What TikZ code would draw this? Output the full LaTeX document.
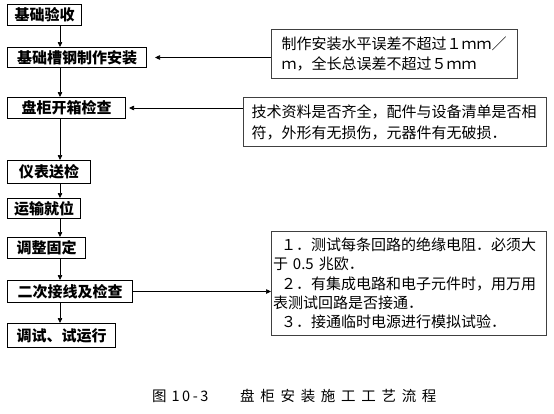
\documentclass[tikz,border=0pt]{standalone}
\usepackage{fontspec}
\setmainfont{Noto Sans CJK SC}
\usetikzlibrary{arrows.meta}
\newcommand\capgap{\hspace{5.7pt}}

\begin{document}
\begin{tikzpicture}[x=1pt,y=-1pt,
  font=\fontsize{15}{20}\selectfont,
  stepbox/.style={rectangle,draw,line width=1pt,anchor=north west,inner sep=0pt,align=center,font=\fontsize{15}{20}\selectfont\bfseries},
  notebox/.style={rectangle,draw=black!75,line width=1pt,anchor=north west,inner ysep=0pt,align=left},
  arr/.style={-{Triangle[length=5pt,width=4.5pt]},line width=0.7pt},
  caplbl/.style={font=\fontsize{14.5}{16}\selectfont,anchor=west,inner sep=0pt},
]
\useasboundingbox (0,0) rectangle (554,413);
% Left column: process steps
\node[stepbox,minimum width=74pt,minimum height=21pt]  (ys) at (7,4)   {基础验收};
\node[stepbox,minimum width=139pt,minimum height=20pt] (cg) at (7,47)  {基础槽钢制作安装};
\node[stepbox,minimum width=118pt,minimum height=21pt] (kx) at (7,97)  {盘柜开箱检查};
\node[stepbox,minimum width=83pt,minimum height=23pt]  (sj) at (7,160) {仪表送检};
\node[stepbox,minimum width=73pt,minimum height=20pt]  (jw) at (7,198) {运输就位};
\node[stepbox,minimum width=78pt,minimum height=21pt]  (gd) at (7,237) {调整固定};
\node[stepbox,minimum width=125pt,minimum height=22pt] (jx) at (7,280) {二次接线及检查};
\node[stepbox,minimum width=108pt,minimum height=24pt] (ts) at (7,323) {调试、试运行};

% Right column: notes
\node[notebox,inner xsep=10pt,text width=226pt,minimum height=49pt] (ncg) at (271,29)
  {制作安装水平误差不超过１ｍｍ／\\ｍ，全长总误差不超过５ｍｍ};
\node[notebox,inner xsep=8pt,text width=287pt,minimum height=49pt,font=\fontsize{15}{21}\selectfont] (nkx) at (243,97)
  {技术资料是否齐全，配件与设备清单是否相\\符，外形有无损伤，元器件有无破损．};
\node[notebox,inner xsep=1.5pt,text width=272pt,minimum height=104pt,font=\fontsize{15}{19.3}\selectfont] (njx) at (271,231)
  {\hspace*{8pt}１．测试每条回路的绝缘电阻．必须大\\于 0.5 兆欧．\\\hspace*{8pt}２．有集成电路和电子元件时，用万用\\表测试回路是否接通．\\\hspace*{8pt}３．接通临时电源进行模拟试验．};

% Main flow
\coordinate (spine) at (60,0);
\foreach \a/\b in {ys/cg,cg/kx,kx/sj,sj/jw,jw/gd,gd/jx,jx/ts}
  \draw[arr] (\a.south -| spine) -- (\b.north -| spine);

% Notes to steps
\draw[arr,shorten >=8pt] (ncg.west |- cg.east) -- (cg.east);
\draw[arr,shorten >=3pt] (nkx.west |- kx.east) -- (kx.east);
\draw[arr] (jx.east) -- (njx.west |- jx.east);

% Caption
\node[caplbl] (figno) at (152,396) {图\hspace{5pt}1\hspace{2.5pt}0\hspace{2.5pt}-\hspace{2.5pt}3};
\node[caplbl] (figtitle) at (240,396) {盘\capgap 柜\capgap 安\capgap 装\capgap 施\capgap 工\capgap 工\capgap 艺\capgap 流\capgap 程};
\end{tikzpicture}
\end{document}
